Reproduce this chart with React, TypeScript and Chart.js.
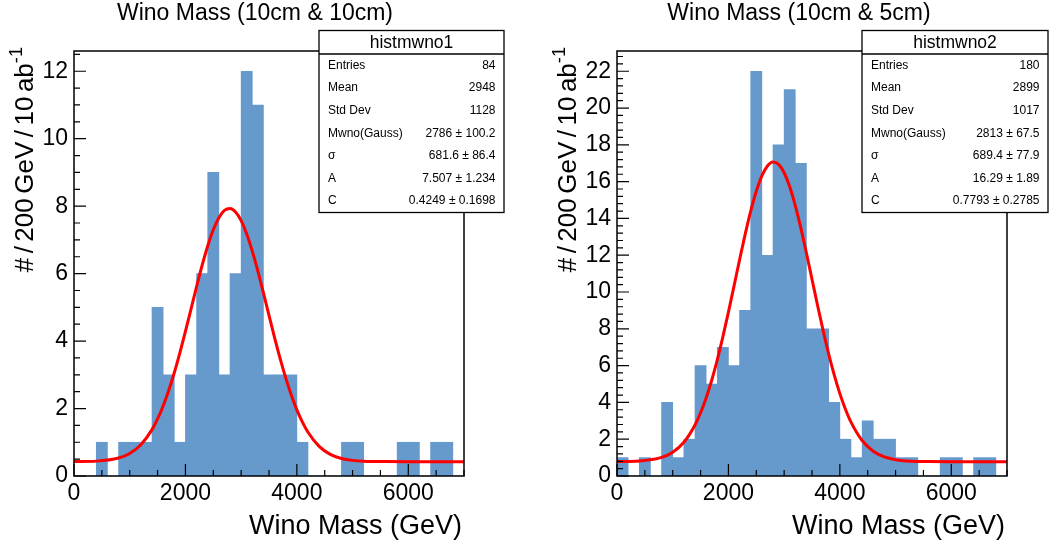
import React, { useEffect, useRef } from 'react';
import { Chart, registerables } from 'chart.js';

Chart.register(...registerables);

const FONT = '"Liberation Sans", Arial, Helvetica, sans-serif';

// ---- data ----
const BIN_CENTERS = [
  100, 300, 500, 700, 900, 1100, 1300, 1500, 1700, 1900, 2100, 2300, 2500, 2700, 2900, 3100, 3300, 3500,
  3700, 3900, 4100, 4300, 4500, 4700, 4900, 5100, 5300, 5500, 5700, 5900, 6100, 6300, 6500, 6700, 6900,
];
const COUNTS_MWNO1 = [
  0, 0, 1, 0, 1, 1, 1, 5, 3, 1, 3, 6, 9, 3, 6, 12, 11, 3, 3, 3, 1, 0, 0, 0, 1, 1, 0, 0, 0, 1, 1, 0, 1, 1, 0,
];
const COUNTS_MWNO2 = [
  1, 0, 1, 0, 4, 1, 2, 6, 5, 7, 6, 9, 22, 12, 18, 21, 17, 8, 8, 4, 2, 1, 3, 2, 2, 1, 1, 0, 0, 1, 1, 0, 1, 1, 0,
];

const FIT_X = [
  0, 400, 800, 1000, 1200, 1400, 1500, 1600, 1700, 1800, 1900, 2000, 2100, 2200, 2300, 2400, 2500, 2600,
  2700, 2800, 2900, 3000, 3100, 3200, 3300, 3400, 3500, 3600, 3700, 3800, 3900, 4000, 4100, 4200, 4400,
  4600, 4800, 5000, 5200, 5600, 6000, 7000,
];
const FIT_MWNO1 = [
  0.427, 0.441, 0.532, 0.667, 0.926, 1.375, 1.691, 2.077, 2.535, 3.061, 3.65, 4.286, 4.949, 5.612, 6.248,
  6.82, 7.299, 7.657, 7.873, 7.93, 7.828, 7.571, 7.176, 6.667, 6.075, 5.429, 4.762, 4.104, 3.48, 2.908,
  2.399, 1.962, 1.596, 1.298, 0.88, 0.642, 0.52, 0.463, 0.439, 0.427, 0.425, 0.425,
];
const FIT_MWNO2 = [
  0.783, 0.815, 1.009, 1.292, 1.833, 2.773, 3.435, 4.244, 5.205, 6.313, 7.557, 8.906, 10.322, 11.75, 13.13,
  14.394, 15.473, 16.31, 16.852, 17.066, 16.94, 16.481, 15.717, 14.694, 13.472, 12.115, 10.695, 9.269,
  7.899, 6.624, 5.479, 4.479, 3.631, 2.931, 1.93, 1.345, 1.035, 0.886, 0.82, 0.784, 0.78, 0.779,
];

const X_TICK_VALUES = [0, 2000, 4000, 6000];
const Y_TICKS_MWNO1 = [0, 2, 4, 6, 8, 10, 12];
const Y_TICKS_MWNO2 = [0, 2, 4, 6, 8, 10, 12, 14, 16, 18, 20, 22];

const STATS_LABELS = ['Entries', 'Mean', 'Std Dev', 'Mwno(Gauss)', 'σ', 'A', 'C'];
const STATS_MWNO1 = ['84', '2948', '1128', '2786 ± 100.2', '681.6 ± 86.4', '7.507 ± 1.234', '0.4249 ± 0.1698'];
const STATS_MWNO2 = ['180', '2899', '1017', '2813 ± 67.5', '689.4 ± 77.9', '16.29 ± 1.89', '0.7793 ± 0.2785'];

const X_TITLE = 'Wino Mass (GeV)';
const Y_TITLE_MAIN = '# / 200 GeV / 10 ab';
const Y_TITLE_SUP = '-1';

type Panel = {
  title: string;
  titleX: number;
  statsName: string;
  statsValues: string[];
  counts: number[];
  fit: number[];
  yTicks: number[];
  yMax: number;
  yMinor: number;
  yAxisWidth: number;
  padRight: number;
  box: { left: number; right: number };
};

const PANELS: Panel[] = [
  {
    title: 'Wino Mass (10cm & 10cm)',
    titleX: 255,
    statsName: 'histmwno1',
    statsValues: STATS_MWNO1,
    counts: COUNTS_MWNO1,
    fit: FIT_MWNO1,
    yTicks: Y_TICKS_MWNO1,
    yMax: 12.6,
    yMinor: 0.5,
    yAxisWidth: 74,
    padRight: 61,
    box: { left: 319, right: 504 },
  },
  {
    title: 'Wino Mass (10cm & 5cm)',
    titleX: 274,
    statsName: 'histmwno2',
    statsValues: STATS_MWNO2,
    counts: COUNTS_MWNO2,
    fit: FIT_MWNO2,
    yTicks: Y_TICKS_MWNO2,
    yMax: 23.1,
    yMinor: 0.4,
    yAxisWidth: 92,
    padRight: 43,
    box: { left: 337, right: 523 },
  },
];

const W = 525;
const H = 548;
const AREA_TOP = 51;
const AREA_BOTTOM = 476;

// draw text with a custom word gap; returns width
function spacedText(ctx: CanvasRenderingContext2D, text: string, x: number, y: number, gap: number, draw: boolean) {
  const words = text.split(' ');
  let cx = x;
  words.forEach((w, i) => {
    if (draw) ctx.fillText(w, cx, y);
    cx += ctx.measureText(w).width;
    if (i < words.length - 1) cx += gap;
  });
  return cx - x;
}

function makePlugin(p: Panel) {
  return {
    id: 'rootDecor',
    afterDatasetsDraw(chart: any) {
      const { ctx, chartArea: a, scales } = chart;
      const x = scales.x;
      const y = scales.y;
      ctx.save();
      ctx.strokeStyle = '#000';
      ctx.lineWidth = 1.5;
      ctx.strokeRect(a.left, a.top, a.right - a.left, a.bottom - a.top);
      ctx.lineWidth = 1.2;
      ctx.beginPath();
      for (let v = 0; v <= 7000; v += 500) {
        const px = x.getPixelForValue(v);
        const len = v % 2000 === 0 ? 12 : 6;
        ctx.moveTo(px, a.bottom);
        ctx.lineTo(px, a.bottom - len);
      }
      const n = Math.floor(p.yMax / p.yMinor + 1e-6);
      for (let k = 0; k <= n; k++) {
        const v = k * p.yMinor;
        const py = y.getPixelForValue(v);
        const major = Math.abs(v / 2 - Math.round(v / 2)) < 1e-6;
        const len = major ? 12 : 6;
        ctx.moveTo(a.left, py);
        ctx.lineTo(a.left + len, py);
      }
      ctx.stroke();
      ctx.restore();
    },
    afterDraw(chart: any) {
      const { ctx, chartArea: a } = chart;
      ctx.save();
      ctx.fillStyle = '#000';
      // title
      ctx.font = `23px ${FONT}`;
      ctx.textAlign = 'center';
      ctx.textBaseline = 'alphabetic';
      ctx.fillText(p.title, p.titleX, 19.5);
      // x title
      ctx.font = `27px ${FONT}`;
      ctx.textAlign = 'right';
      ctx.fillText(X_TITLE, a.right - 2, 534);
      // y title
      const fs = 26;
      const gap = 4.5;
      ctx.textAlign = 'left';
      ctx.font = `${fs}px ${FONT}`;
      const mainW = spacedText(ctx, Y_TITLE_MAIN, 0, 0, gap, false);
      ctx.font = `${fs * 0.7}px ${FONT}`;
      const supW = ctx.measureText(Y_TITLE_SUP).width;
      const total = mainW + supW;
      ctx.save();
      ctx.translate(a.left - 41, 47);
      ctx.rotate(-Math.PI / 2);
      ctx.font = `${fs}px ${FONT}`;
      spacedText(ctx, Y_TITLE_MAIN, -total, 0, gap, true);
      ctx.font = `${fs * 0.7}px ${FONT}`;
      ctx.fillText(Y_TITLE_SUP, -supW, -fs * 0.42);
      ctx.restore();
      // stats box
      const b = p.box;
      const top = 30.5;
      const header = 54;
      const bottom = 212.5;
      ctx.fillStyle = '#fff';
      ctx.fillRect(b.left, top, b.right - b.left, bottom - top);
      ctx.strokeStyle = '#000';
      ctx.lineWidth = 1.3;
      ctx.strokeRect(b.left, top, b.right - b.left, bottom - top);
      ctx.beginPath();
      ctx.moveTo(b.left, header);
      ctx.lineTo(b.right, header);
      ctx.stroke();
      ctx.fillStyle = '#000';
      ctx.font = `17.5px ${FONT}`;
      ctx.textAlign = 'center';
      ctx.textBaseline = 'middle';
      ctx.fillText(p.statsName, (b.left + b.right) / 2, (top + header) / 2 + 1);
      const rowH = (bottom - header) / STATS_LABELS.length;
      ctx.font = `12px ${FONT}`;
      STATS_LABELS.forEach((lab, i) => {
        const cy = header + rowH * (i + 0.5);
        ctx.textAlign = 'left';
        ctx.fillText(lab, b.left + 9, cy);
        ctx.textAlign = 'right';
        ctx.fillText(p.statsValues[i], b.right - 8.5, cy);
      });
      ctx.restore();
    },
  };
}

function HistPanel({ p }: { p: Panel }) {
  const ref = useRef<HTMLCanvasElement | null>(null);
  useEffect(() => {
    if (!ref.current) return;
    const tickFont = { size: 23, family: FONT };
    const chart = new Chart(ref.current, {
      type: 'bar',
      data: {
        datasets: [
          {
            type: 'line',
            data: FIT_X.map((xv, i) => ({ x: xv, y: p.fit[i] })),
            borderColor: '#ff0000',
            borderWidth: 3,
            pointRadius: 0,
            cubicInterpolationMode: 'monotone',
            fill: false,
            order: 0,
          } as any,
          {
            type: 'bar',
            data: BIN_CENTERS.map((xv, i) => ({ x: xv, y: p.counts[i] })),
            backgroundColor: '#6699cc',
            borderWidth: 0,
            barPercentage: 1,
            categoryPercentage: 1,
            order: 1,
          } as any,
        ],
      },
      options: {
        responsive: false,
        animation: false,
        devicePixelRatio: 1,
        layout: { padding: { left: 0, right: p.padRight, top: AREA_TOP, bottom: 0 } },
        plugins: { legend: { display: false }, tooltip: { enabled: false }, title: { display: false } },
        scales: {
          x: {
            type: 'linear',
            offset: false,
            min: 0,
            max: 7000,
            grid: { display: false, drawTicks: false, offset: false },
            border: { display: false },
            afterBuildTicks: (s: any) => {
              s.ticks = X_TICK_VALUES.map((v) => ({ value: v }));
            },
            ticks: {
              autoSkip: false,
              maxRotation: 0,
              font: tickFont,
              color: '#000',
              padding: 4,
              callback: (v: any) => String(v),
            },
            afterFit: (s: any) => {
              s.height = H - AREA_BOTTOM;
            },
          },
          y: {
            type: 'linear',
            min: 0,
            max: p.yMax,
            grid: { display: false, drawTicks: false },
            border: { display: false },
            afterBuildTicks: (s: any) => {
              s.ticks = p.yTicks.map((v) => ({ value: v }));
            },
            ticks: {
              autoSkip: false,
              font: tickFont,
              color: '#000',
              padding: 6,
              callback: (v: any) => String(v),
            },
            afterFit: (s: any) => {
              s.width = p.yAxisWidth;
            },
          },
        },
      } as any,
      plugins: [makePlugin(p)],
    });
    return () => chart.destroy();
  }, [p]);
  return <canvas ref={ref} width={W} height={H} style={{ display: 'block', width: W, height: H }} />;
}

export default function App() {
  return (
    <div
      style={{
        position: 'absolute',
        left: 0,
        top: 0,
        width: 1050,
        height: 548,
        background: '#fff',
        display: 'flex',
      }}
    >
      {PANELS.map((p) => (
        <HistPanel key={p.statsName} p={p} />
      ))}
    </div>
  );
}
